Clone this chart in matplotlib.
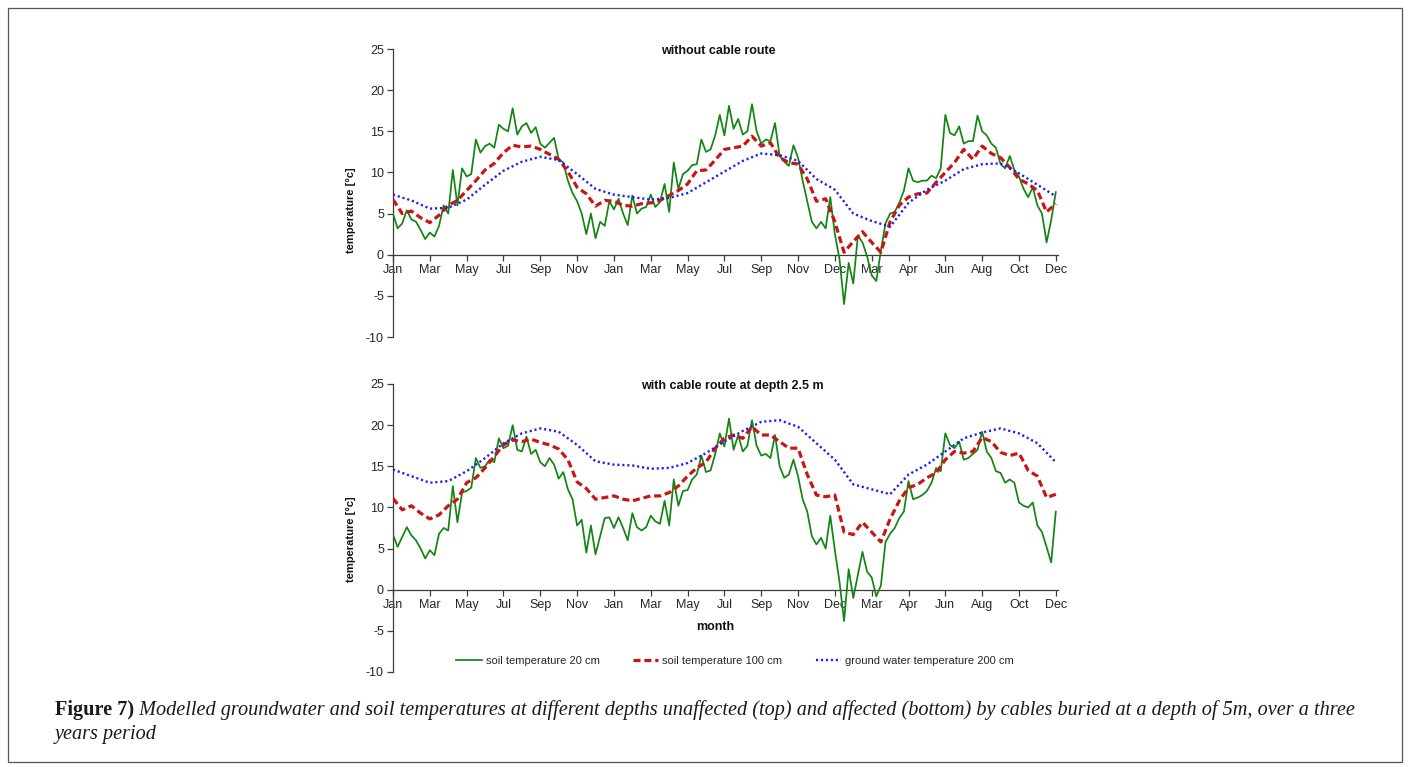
import numpy as np
import matplotlib
matplotlib.use("Agg")
import matplotlib.pyplot as plt
from matplotlib.lines import Line2D
from matplotlib.patches import Rectangle

plt.rcParams["axes.unicode_minus"] = False

# ---------------------------------------------------------------------------
# Axis labels (one tick every ~2 months over three years)
month_labels = ["Jan", "Mar", "May", "Jul", "Sep", "Nov", "Jan", "Mar", "May",
                "Jul", "Sep", "Nov", "Dec", "Mar", "Apr", "Jun", "Aug", "Oct", "Dec"]

# Sampling steps along the month axis (in tick intervals)
step_soil20 = 1 / 8
step_soil100 = 1 / 4
step_gw200 = 1 / 2

# --- without cable route -----------------------------------------------------
top_soil20 = [
    5.0, 3.2, 3.8, 5.4, 4.3, 4.0, 3.0, 1.9, 2.7, 2.2, 3.5, 6.0, 5.0, 10.3, 6.0, 10.5,
    9.5, 9.8, 14.0, 12.4, 13.2, 13.5, 13.0, 15.8, 15.3, 15.0, 17.8, 14.6, 15.6, 16.0,
    14.8, 15.5, 13.5, 13.0, 13.6, 14.2, 11.6, 11.2, 9.0, 7.5, 6.5, 5.0, 2.5, 5.0, 2.0,
    4.0, 3.5, 6.5, 5.5,
    6.8, 5.0, 3.6, 7.2, 5.0, 5.6, 5.8, 7.3, 5.8, 6.4, 8.6, 5.2, 11.2, 8.0, 9.8, 10.2,
    10.9, 11.0, 14.0, 12.5, 12.8, 14.5, 17.0, 14.5, 18.1, 15.3, 16.5, 14.6, 15.0, 18.3,
    15.0, 13.5, 14.0, 13.8, 16.0, 12.0, 11.3, 10.8, 13.3, 11.8, 9.0, 6.5, 4.0, 3.2,
    4.0, 3.2, 7.0, 2.5,
    -0.5, -6.0, -1.0, -3.5, 2.3, 1.5, -0.2, -2.5, -3.2, 0.5, 3.8, 5.0, 5.2, 6.3, 7.8,
    10.5, 9.0, 8.8, 9.0, 9.0, 9.6, 9.3, 10.5, 17.0, 14.8, 14.5, 15.6, 13.5, 13.8, 13.8,
    16.9, 15.0, 14.5, 13.5, 13.0, 11.0, 10.5, 12.0, 10.3, 9.5, 8.0, 7.0, 8.2, 6.0, 5.0,
    1.5, 4.2, 7.6,
]
top_soil100 = [
    6.7, 5.0, 5.3, 4.5, 3.9, 4.8, 6.0, 6.6, 7.8, 9.0, 10.3, 11.1, 12.4, 13.3, 13.1,
    13.2, 12.8, 12.2, 11.6, 10.1, 8.2, 7.4, 5.9, 6.6, 6.5,
    6.0, 5.9, 6.2, 6.3, 6.6, 7.2, 7.8, 8.6, 10.2, 10.3, 11.5, 12.8, 13.0, 13.2, 14.4,
    13.2, 13.6, 11.8, 11.2, 11.0, 9.2, 6.5, 6.8, 4.0,
    0.3, 1.6, 2.8, 1.5, 0.3, 4.0, 6.0, 7.0, 7.4, 7.5, 8.8, 10.0, 11.2, 12.8, 11.6,
    13.2, 12.3, 11.8, 10.6, 9.2, 8.6, 7.8, 5.2, 6.2,
]
top_gw200 = [
    7.3, 6.6, 5.6, 5.7, 6.7, 8.5, 10.2, 11.3, 11.9, 11.5, 9.8, 8.0, 7.3,
    7.0, 6.7, 6.9, 7.5, 8.8, 10.1, 11.4, 12.3, 12.1, 11.4, 9.2, 7.9,
    5.0, 4.1, 3.4, 6.3, 7.9, 9.0, 10.4, 11.0, 11.1, 9.9, 8.5, 7.1,
]

# --- with cable route at depth 2.5 m ----------------------------------------
bot_soil20 = [
    6.7, 5.2, 6.4, 7.6, 6.6, 6.0, 5.0, 3.8, 4.8, 4.2, 6.8, 7.5, 7.2, 12.6, 8.2, 11.8,
    12.0, 12.4, 16.0, 14.8, 15.0, 15.8, 15.5, 18.4, 17.2, 17.5, 20.0, 17.0, 16.8, 18.6,
    16.5, 17.0, 15.5, 15.0, 16.0, 15.2, 13.5, 14.3, 12.2, 11.0, 7.8, 8.5, 4.5, 7.8,
    4.3, 6.5, 8.7, 8.8, 7.5,
    8.8, 7.5, 6.0, 9.3, 7.6, 7.2, 7.6, 9.0, 8.3, 8.0, 10.8, 7.8, 13.4, 10.2, 12.0, 12.1,
    13.4, 14.0, 16.3, 14.3, 14.5, 16.5, 19.0, 17.4, 20.8, 17.0, 18.8, 16.8, 17.5, 20.6,
    17.5, 16.3, 16.5, 16.0, 18.8, 15.0, 13.6, 14.0, 15.8, 13.8, 11.0, 9.5, 6.5, 5.5,
    6.3, 5.0, 9.0, 4.8,
    1.0, -3.8, 2.5, -1.0, 1.8, 4.6, 2.2, 1.5, -0.8, 0.5, 5.8, 6.8, 7.5, 8.7, 9.5, 13.2,
    11.0, 11.2, 11.5, 12.0, 13.0, 14.8, 14.4, 19.0, 17.6, 17.2, 18.0, 15.8, 16.0, 16.5,
    17.0, 19.2, 16.8, 16.0, 14.4, 14.2, 13.0, 13.4, 13.0, 10.6, 10.2, 10.0, 10.6, 7.8,
    7.0, 5.2, 3.3, 9.5,
]
bot_soil100 = [
    11.1, 9.7, 10.2, 9.3, 8.6, 9.1, 10.2, 11.0, 13.0, 13.6, 14.8, 16.2, 17.6, 18.2,
    18.0, 18.3, 17.9, 17.6, 17.1, 15.8, 13.1, 12.3, 11.0, 11.2, 11.4,
    11.0, 10.8, 11.1, 11.4, 11.4, 11.8, 12.6, 13.8, 14.8, 15.5, 17.2, 18.4, 18.8, 18.4,
    19.8, 18.8, 18.8, 18.0, 17.2, 17.2, 14.0, 11.5, 11.3, 11.5,
    7.0, 6.7, 8.2, 7.0, 5.8, 8.6, 10.8, 12.4, 12.8, 13.6, 14.2, 15.8, 16.8, 16.6, 16.8,
    18.5, 18.0, 16.7, 16.3, 16.6, 14.5, 13.8, 11.2, 11.6,
]
bot_gw200 = [
    14.6, 13.8, 13.0, 13.2, 14.4, 16.0, 17.8, 19.0, 19.6, 19.2, 17.6, 15.6, 15.2,
    15.1, 14.7, 14.8, 15.4, 16.6, 18.0, 19.3, 20.4, 20.6, 19.8, 17.8, 15.8,
    12.8, 12.2, 11.6, 14.0, 15.2, 16.8, 18.4, 19.1, 19.6, 19.0, 17.8, 15.5,
]

series_names = ["soil temperature 20 cm", "soil temperature 100 cm",
                "ground water temperature 200 cm"]
panel_titles = ["without cable route", "with cable route at depth 2.5 m"]

# ---------------------------------------------------------------------------
W, H = 1410, 767
fig = plt.figure(figsize=(W / 100, H / 100), dpi=100)
fig.patch.set_facecolor("white")

SANS = ["Liberation Sans", "DejaVu Sans"]
TXT = "#262626"
AX_COL = "#3c3c3c"

green = "#128412"
red = "#c81616"
blue = "#1e1ef0"

STYLE_20 = dict(color=green, lw=1.25, solid_joinstyle="round")
STYLE_100 = dict(color=red, lw=2.3, linestyle=(0, (2.2, 1.2)))
STYLE_200 = dict(color=blue, lw=1.7, linestyle=(0, (0.9, 1.2)))


def px_axes(left, top, right, bottom):
    return [left / W, 1 - bottom / H, (right - left) / W, (bottom - top) / H]


def draw_panel(ax, s20, s100, gw, title, title_x, ylabel_y):
    x20 = np.arange(len(s20)) * step_soil20
    x100 = np.arange(len(s100)) * step_soil100
    xgw = np.arange(len(gw)) * step_gw200
    ax.plot(x20, s20, zorder=3, **STYLE_20)
    ax.plot(x100, s100, zorder=4, **STYLE_100)
    ax.plot(xgw, gw, zorder=5, **STYLE_200)

    ax.set_xlim(0, len(month_labels) - 1 + 0.06)
    ax.set_ylim(-10, 25)
    ax.set_yticks(np.arange(-10, 26, 5))
    ax.set_xticks(np.arange(len(month_labels)))
    ax.set_xticklabels(month_labels)

    for side in ("top", "right"):
        ax.spines[side].set_visible(False)
    ax.spines["bottom"].set_position(("data", 0))
    for side in ("left", "bottom"):
        ax.spines[side].set_color(AX_COL)
        ax.spines[side].set_linewidth(0.9)
    ax.tick_params(axis="both", direction="out", length=4, width=0.9,
                   color=AX_COL, labelcolor=TXT, labelsize=9, pad=2.5)
    for lab in ax.get_xticklabels() + ax.get_yticklabels():
        lab.set_family(SANS)

    ax.text(title_x, 0.993, title, transform=ax.transAxes, ha="center",
            va="center", fontsize=9, fontweight="bold", color="#111111",
            family=SANS)
    ax.set_ylabel("temperature [°c]", fontsize=8, fontweight="bold",
                  color="#111111", family=SANS)
    ax.yaxis.set_label_coords(-0.055, ylabel_y)
    ax.patch.set_alpha(0)


ax_top = fig.add_axes(px_axes(393, 49, 1058, 337))
ax_bot = fig.add_axes(px_axes(393, 384, 1058, 672))

draw_panel(ax_top, top_soil20, top_soil100, top_gw200, panel_titles[0], 0.489, 0.44)
draw_panel(ax_bot, bot_soil20, bot_soil100, bot_gw200, panel_titles[1], 0.51, 0.46)

fig.text(715 / W, 1 - 627 / H, "month", ha="center", va="center", fontsize=9,
         fontweight="bold", color="#111111", family=SANS)

handles = [Line2D([], [], **STYLE_20), Line2D([], [], **STYLE_100),
           Line2D([], [], **STYLE_200)]
fig.legend(handles, series_names, loc="center", ncol=3, frameon=False,
           bbox_to_anchor=(735 / W, 1 - 661 / H), prop={"family": SANS, "size": 8},
           handlelength=2.3, handletextpad=0.35, columnspacing=3.0, labelcolor=TXT)

# Outer frame
fig.add_artist(Rectangle((8 / W, 1 - 762 / H), (1402 - 8) / W, (762 - 8) / H,
                         transform=fig.transFigure, fill=False, lw=0.9,
                         edgecolor="#555555"))

# Caption, sized so the first line spans the frame interior
SERIF = ["Liberation Serif", "DejaVu Serif"]
cap_bold = "Figure 7)"
cap_line1 = (" Modelled groundwater and soil temperatures at different depths unaffected "
             "(top) and affected (bottom) by cables buried at a depth of 5m, over a three")
cap_line2 = "years period"

renderer = fig.canvas.get_renderer()
size = 12
t_bold = fig.text(55 / W, 1 - 715 / H, cap_bold, fontsize=size, fontweight="bold",
                  family=SERIF, color="#1a1a1a", va="baseline")
t_it = fig.text(0, 1 - 715 / H, cap_line1, fontsize=size, style="italic",
                family=SERIF, color="#1a1a1a", va="baseline")
wb = t_bold.get_window_extent(renderer).width
wi = t_it.get_window_extent(renderer).width
size = size * (1357 - 55) / (wb + wi)
t_bold.set_fontsize(size)
t_it.set_fontsize(size)
wb = t_bold.get_window_extent(renderer).width
t_it.set_x((55 + wb) / W)
fig.text(55 / W, 1 - 739 / H, cap_line2, fontsize=size, style="italic",
         family=SERIF, color="#1a1a1a", va="baseline")

fig.savefig("out.png", dpi=100, facecolor="white")
